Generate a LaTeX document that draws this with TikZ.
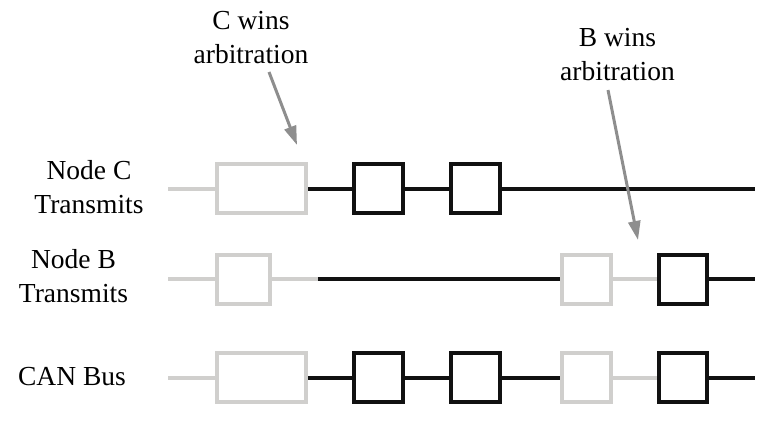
\documentclass[tikz,border=0pt]{standalone}
\usepackage{fontspec}
\setmainfont{Liberation Serif}
\usetikzlibrary{arrows.meta}
\definecolor{lg}{HTML}{D0CFCD}
\definecolor{bk}{HTML}{111111}
\definecolor{ag}{HTML}{8E8E8E}
\begin{document}
\begin{tikzpicture}[x=1pt,y=-1pt,
  gbox/.style={draw=lg, line width=4pt, minimum width=#1, minimum height=49pt, inner sep=0pt},
  gbox/.default=49pt,
  bbox/.style={draw=bk, line width=4pt, minimum width=#1, minimum height=49pt, inner sep=0pt},
  bbox/.default=49pt,
  gline/.style={draw=lg, line width=4pt},
  bline/.style={draw=bk, line width=4pt},
  lbl/.style={font=\fontsize{27.5}{34}\selectfont, align=center, inner sep=0pt, anchor=base},
  arr/.style={draw=ag, line width=3pt, -{Triangle[length=19pt,width=12pt]}}]
\useasboundingbox (0,0) rectangle (773,447);

% labels (anchor = baseline of last line)
\node[lbl] (lc) at (89,213) {Node C\\Transmits};
\node[lbl] (lb) at (73.5,302) {Node B\\Transmits};
\node[lbl] (lcan) at (72,385) {CAN Bus};
\node[lbl] (wc) at (251,63) {C wins\\arbitration};
\node[lbl] (wb) at (617.5,80) {B wins\\arbitration};

% row C
\coordinate (cs) at (168,188.5);
\coordinate (ce) at (755,188.5);
\node[gbox=89pt] (c1) at (261.5,188.5) {};
\node[bbox] (c2) at (378.5,188.5) {};
\node[bbox] (c3) at (475.5,188.5) {};
\draw[gline] (cs) -- (c1.west);
\draw[bline] (c1.east) -- (c2.west) (c2.east) -- (c3.west) (c3.east) -- (ce);

% row B
\coordinate (bs) at (168,279);
\coordinate (bm) at (318,279);
\coordinate (be) at (755,279);
\node[gbox=53pt] (b1) at (243.5,279) {};
\node[gbox] (b2) at (586.5,279) {};
\node[bbox=48pt] (b3) at (683,279) {};
\draw[gline] (bs) -- (b1.west) (b1.east) -- (bm);
\draw[bline] (bm) -- (b2.west);
\draw[gline] (b2.east) -- (b3.west);
\draw[bline] (b3.east) -- (be);

% CAN bus
\coordinate (ns) at (168,377.5);
\coordinate (ne) at (755,377.5);
\node[gbox=89pt] (n1) at (261.5,377.5) {};
\node[bbox] (n2) at (378.5,377.5) {};
\node[bbox] (n3) at (475.5,377.5) {};
\node[gbox] (n4) at (586.5,377.5) {};
\node[bbox=48pt] (n5) at (683,377.5) {};
\draw[gline] (ns) -- (n1.west);
\draw[bline] (n1.east) -- (n2.west) (n2.east) -- (n3.west) (n3.east) -- (n4.west);
\draw[gline] (n4.east) -- (n5.west);
\draw[bline] (n5.east) -- (ne);

% arrows
\coordinate (ac1) at (269,72);
\coordinate (ac2) at (297,145);
\coordinate (ab1) at (608,90);
\coordinate (ab2) at (638,240);
\draw[arr] (ac1) -- (ac2);
\draw[arr] (ab1) -- (ab2);
\end{tikzpicture}
\end{document}
